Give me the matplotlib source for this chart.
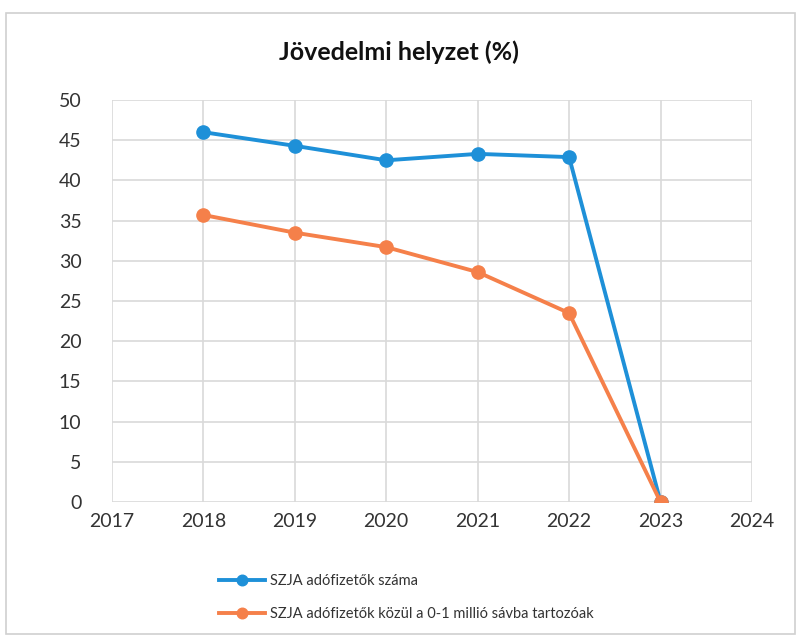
import matplotlib
matplotlib.use("Agg")
import matplotlib.pyplot as plt
from matplotlib.patches import Rectangle

years = [2018, 2019, 2020, 2021, 2022, 2023]
szja_szama = [46.0, 44.3, 42.5, 43.3, 42.9, 0.0]
szja_0_1 = [35.7, 33.5, 31.7, 28.6, 23.5, 0.0]
series_names = ["SZJA adófizetők száma", "SZJA adófizetők közül a 0-1 millió sávba tartozóak"]
title = "Jövedelmi helyzet (%)"
xticks = list(range(2017, 2025))
yticks = list(range(0, 51, 5))

plt.rcParams['font.family'] = ['Lato', 'DejaVu Sans']

fig = plt.figure(figsize=(7.97, 6.37), dpi=100)
fig.patches.append(Rectangle((0.008, 0.005), 0.99, 0.975, transform=fig.transFigure,
                             fill=False, edgecolor='#d0d0d0', linewidth=1.2))
ax = fig.add_axes([0.1405, 0.2119, 0.803, 0.6311])

blue = '#1e90d8'
orange = '#f5804a'
ax.plot(years, szja_szama, color=blue, linewidth=2.8, marker='o', markersize=9.5, label=series_names[0], zorder=3)
ax.plot(years, szja_0_1, color=orange, linewidth=2.8, marker='o', markersize=9.5, label=series_names[1], zorder=4)

ax.set_xlim(2017, 2024)
ax.set_ylim(0, 50)
ax.set_xticks(xticks)
ax.set_yticks(yticks)
ax.grid(True, color='#d9d9d9', linewidth=1.2)
ax.set_axisbelow(True)
for s in ax.spines.values():
    s.set_visible(False)
ax.tick_params(length=0, labelsize=14, colors='#333333', pad=8)
ax.tick_params(axis='y', pad=22)

fig.text(0.5, 0.918, title, ha='center', va='center', fontsize=18, fontweight='bold', color='#111111')

leg = fig.legend(loc='upper left', bbox_to_anchor=(0.258, 0.12), frameon=False, fontsize=10.5,
                 handlelength=3.2, labelspacing=1.3, handletextpad=0.3, markerscale=0.8)
for t in leg.get_texts():
    t.set_color('#333333')

fig.savefig('out.png', dpi=100)
